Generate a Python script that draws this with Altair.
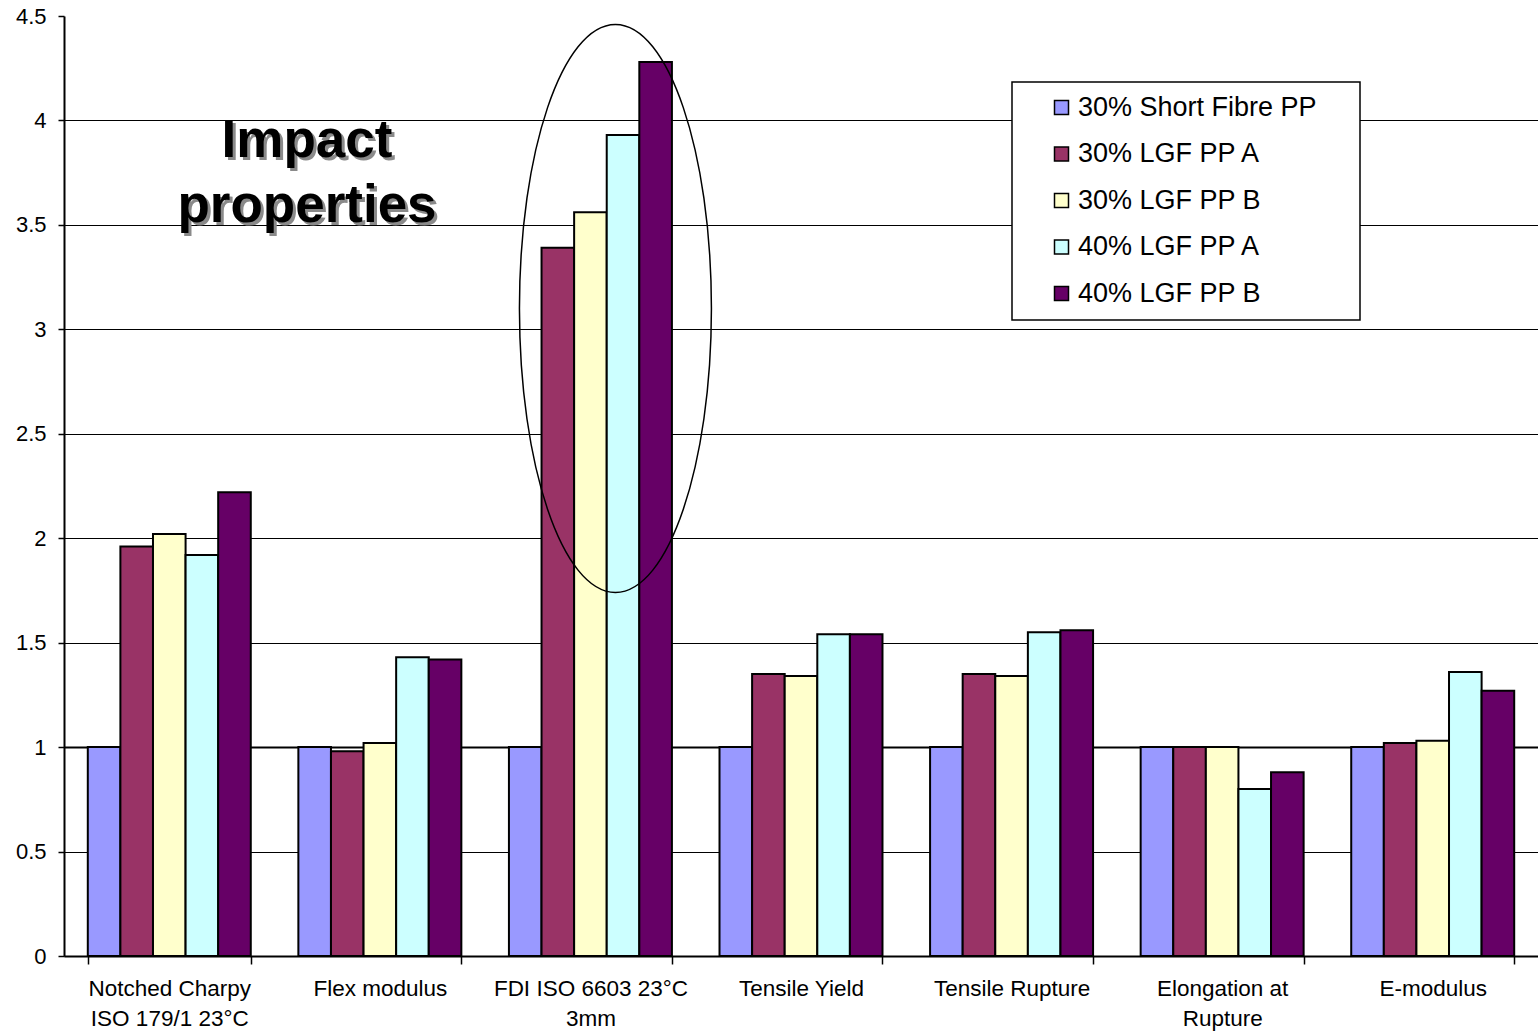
import altair as alt
import pandas as pd

categories = [
    "Notched Charpy|ISO 179/1 23°C",
    "Flex modulus",
    "FDI ISO 6603 23°C|3mm",
    "Tensile Yield",
    "Tensile Rupture",
    "Elongation at|Rupture",
    "E-modulus",
]
series = ["30% Short Fibre PP", "30% LGF PP A", "30% LGF PP B", "40% LGF PP A", "40% LGF PP B"]
colors = ["#9999FF", "#993366", "#FFFFCC", "#CCFFFF", "#660066"]

short_fibre_30 = [1.0, 1.0, 1.0, 1.0, 1.0, 1.0, 1.0]
lgf_a_30 = [1.96, 0.98, 3.39, 1.35, 1.35, 1.0, 1.02]
lgf_b_30 = [2.02, 1.02, 3.56, 1.34, 1.34, 1.0, 1.03]
lgf_a_40 = [1.92, 1.43, 3.93, 1.54, 1.55, 0.80, 1.36]
lgf_b_40 = [2.22, 1.42, 4.28, 1.54, 1.56, 0.88, 1.27]
all_values = [short_fibre_30, lgf_a_30, lgf_b_30, lgf_a_40, lgf_b_40]

y_ticks = [0, 0.5, 1, 1.5, 2, 2.5, 3, 3.5, 4, 4.5]
note_lines = ["Impact", "properties"]
ellipse_value = 3.1

rows = []
for s, vals in zip(series, all_values):
    for c, v in zip(categories, vals):
        rows.append({"category": c, "series": s, "value": v})
df = pd.DataFrame(rows)

FONT = "Liberation Sans"

x_scale = alt.Scale(domain=categories, paddingInner=0.226, paddingOuter=0.113)

bars = alt.Chart(df).mark_bar(stroke="black", strokeWidth=2).encode(
    x=alt.X(
        "category:N",
        sort=categories,
        scale=x_scale,
        axis=alt.Axis(
            title=None,
            labelAngle=0,
            labelExpr="split(datum.label, '|')",
            labelLimit=400,
            tickBand="extent",
            tickSize=8,
            tickColor="black",
            tickWidth=1.5,
            domainColor="black",
            domainWidth=2,
            labelFont=FONT,
            labelFontSize=22.5,
            labelColor="black",
            labelLineHeight=30,
            labelPadding=13,
            labelBaseline="top",
            grid=False,
        ),
    ),
    xOffset=alt.XOffset("series:N", sort=series, scale=alt.Scale(domain=series, paddingInner=0, paddingOuter=0)),
    y=alt.Y(
        "value:Q",
        scale=alt.Scale(domain=[0, 4.5], nice=False),
        axis=alt.Axis(
            title=None,
            values=y_ticks,
            format=".1~f",
            grid=True,
            gridColor="black",
            gridWidth={"condition": {"test": "datum.value === 1", "value": 2}, "value": 1},
            gridOpacity={"condition": {"test": "datum.value >= 4.5", "value": 0}, "value": 1},
            domainColor="black",
            domainWidth=2,
            tickColor="black",
            tickSize=6,
            tickWidth=1.5,
            labelFont=FONT,
            labelFontSize=22,
            labelColor="black",
            labelPadding=12,
        ),
    ),
    fill=alt.Fill(
        "series:N",
        sort=series,
        scale=alt.Scale(domain=series, range=colors),
        legend=alt.Legend(
            title=None,
            orient="none",
            legendX=984,
            legendY=78,
            padding=0,
            symbolType="square",
            symbolSize=196,
            symbolStrokeColor="black",
            symbolStrokeWidth=1.5,
            labelFont=FONT,
            labelFontSize=27,
            labelColor="black",
            labelOffset=3,
            rowPadding=18.5,
            labelLimit=400,
        ),
    ),
)

legend_box = alt.Chart(pd.DataFrame({"k": [0]})).mark_rect(
    fill="white", stroke="black", strokeWidth=1.5
).encode(
    x=alt.value(948), x2=alt.value(1296), y=alt.value(66), y2=alt.value(304)
)

ellipse_path = "M -0.338 0 A 0.338 1 0 1 0 0.338 0 A 0.338 1 0 1 0 -0.338 0 Z"
ellipse = alt.Chart(pd.DataFrame({"category": [categories[2]], "value": [ellipse_value]})).mark_point(
    shape=ellipse_path, size=322624, filled=False, stroke="black", strokeWidth=1.5, xOffset=25, opacity=1
).encode(
    x=alt.X("category:N", sort=categories, scale=x_scale),
    y=alt.Y("value:Q"),
)

note_df = pd.DataFrame({"t": [note_lines]})
note_shadow = alt.Chart(note_df).mark_text(
    font=FONT, fontSize=53, fontWeight="bold", lineHeight=65, color="#8a8a8a",
    align="center", baseline="middle", dx=3, dy=3,
).encode(text="t", x=alt.value(243), y=alt.value(125))
note = alt.Chart(note_df).mark_text(
    font=FONT, fontSize=53, fontWeight="bold", lineHeight=65, color="black",
    align="center", baseline="middle",
).encode(text="t", x=alt.value(243), y=alt.value(125))

chart = alt.layer(bars, legend_box, ellipse, note_shadow, note).properties(
    width=1474,
    height=940,
    padding={"left": 64, "top": 16, "right": 0, "bottom": 76},
    autosize=alt.AutoSizeParams(type="none"),
    background="white",
).configure_view(stroke=None)

chart.save("out.html", embed_options={"renderer": "svg", "actions": False})
